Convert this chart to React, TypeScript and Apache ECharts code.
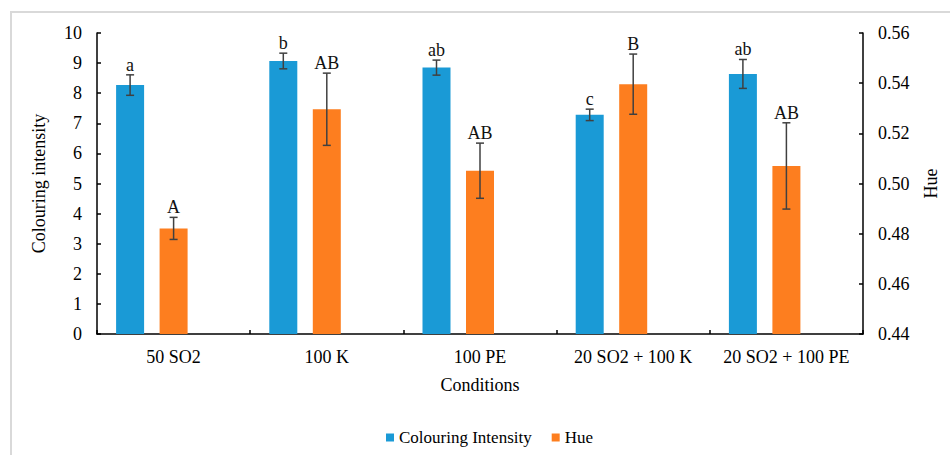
import React, { useEffect, useRef } from "react";
import * as echarts from "echarts";

const categories = ["50 SO2", "100 K", "100 PE", "20 SO2 + 100 K", "20 SO2 + 100 PE"];
const intensity = [8.27, 9.07, 8.85, 7.28, 8.64];
const intensityErr = [0.34, 0.26, 0.25, 0.19, 0.48];
const intensityLetters = ["a", "b", "ab", "c", "ab"];
const hue = [0.4821, 0.5296, 0.5051, 0.5396, 0.507];
const hueErr = [0.0044, 0.0144, 0.011, 0.012, 0.0172];
const hueLetters = ["A", "AB", "AB", "B", "AB"];
const leftTicks = { min: 0, max: 10, interval: 1 };
const rightTicks = { min: 0.44, max: 0.56, interval: 0.02 };

const BAR_W = 28;
const BAR_GAP = 15.5;
const FONT = "'Liberation Serif', 'Times New Roman', serif";
const BLUE = "#1a9ad6";
const ORANGE = "#fd7e1f";
const ERR_COLOR = "#404040";

function errorSeries(name: string, values: number[], errs: number[], letters: string[], yAxisIndex: number, offset: number) {
  return {
    type: "custom",
    name: name + "_err",
    yAxisIndex,
    z: 5,
    silent: true,
    data: values.map((v, i) => [i, v, errs[i]]),
    encode: { x: 0, y: 1 },
    renderItem: (params: any, api: any) => {
      const idx = api.value(0);
      const v = api.value(1);
      const e = api.value(2);
      const top = api.coord([idx, v + e]);
      const bot = api.coord([idx, v - e]);
      const x = top[0] + offset;
      const cap = 4;
      return {
        type: "group",
        children: [
          { type: "line", shape: { x1: x, y1: top[1], x2: x, y2: bot[1] }, style: { stroke: ERR_COLOR, lineWidth: 1.5 } },
          { type: "line", shape: { x1: x - cap, y1: top[1], x2: x + cap, y2: top[1] }, style: { stroke: ERR_COLOR, lineWidth: 1.5 } },
          { type: "line", shape: { x1: x - cap, y1: bot[1], x2: x + cap, y2: bot[1] }, style: { stroke: ERR_COLOR, lineWidth: 1.5 } },
          {
            type: "text",
            x: x,
            y: top[1] - 1,
            style: {
              text: letters[params.dataIndex],
              fill: "#111",
              font: `18px ${FONT}`,
              textAlign: "center",
              textVerticalAlign: "bottom",
            },
          },
        ],
      };
    },
  };
}

export default function App() {
  const ref = useRef<HTMLDivElement>(null);
  useEffect(() => {
    if (!ref.current) return;
    const chart = echarts.init(ref.current, undefined, { renderer: "svg" });
    const axisLabelStyle = { color: "#000", fontFamily: FONT, fontSize: 18 };
    chart.setOption({
      animation: false,
      backgroundColor: "#fff",
      textStyle: { fontFamily: FONT },
      graphic: [
        {
          type: "polyline",
          shape: { points: [[11, 460], [11, 12], [960, 12]] },
          style: { stroke: "#d9d9d9", lineWidth: 2, fill: "none" },
          silent: true,
        },
      ],
      grid: { left: 97, right: 87, top: 33, bottom: 121 },
      legend: {
        data: ["Colouring Intensity", "Hue"],
        left: 381,
        top: 424,
        icon: "rect",
        itemWidth: 8,
        itemHeight: 8,
        itemGap: 20,
        textStyle: { color: "#000", fontFamily: FONT, fontSize: 17 },
      },
      xAxis: {
        type: "category",
        data: categories,
        name: "Conditions",
        nameLocation: "middle",
        nameGap: 42,
        nameTextStyle: { color: "#000", fontFamily: FONT, fontSize: 18 },
        axisLine: { lineStyle: { color: "#000", width: 1.5 } },
        axisTick: { show: true, inside: true, length: 4, lineStyle: { color: "#000", width: 1.5 } },
        axisLabel: { ...axisLabelStyle, margin: 14, interval: 0 },
      },
      yAxis: [
        {
          type: "value",
          min: leftTicks.min,
          max: leftTicks.max,
          interval: leftTicks.interval,
          position: "left",
          name: "Colouring intensity",
          nameLocation: "middle",
          nameRotate: 90,
          nameGap: 49,
          nameTextStyle: { color: "#000", fontFamily: FONT, fontSize: 18 },
          axisLine: { show: true, lineStyle: { color: "#000", width: 1.5 } },
          axisTick: { show: true, inside: true, length: 4, lineStyle: { color: "#000", width: 1.5 } },
          axisLabel: { ...axisLabelStyle, margin: 15 },
          splitLine: { show: false },
        },
        {
          type: "value",
          min: rightTicks.min,
          max: rightTicks.max,
          interval: rightTicks.interval,
          position: "right",
          name: "Hue",
          nameLocation: "middle",
          nameRotate: 90,
          nameGap: 59,
          nameTextStyle: { color: "#000", fontFamily: FONT, fontSize: 18 },
          axisLine: { show: true, lineStyle: { color: "#000", width: 1.5 } },
          axisTick: { show: true, inside: true, length: 4, lineStyle: { color: "#000", width: 1.5 } },
          axisLabel: { ...axisLabelStyle, margin: 15, formatter: (v: number) => v.toFixed(2) },
          splitLine: { show: false },
        },
      ],
      series: [
        {
          type: "bar",
          name: "Colouring Intensity",
          yAxisIndex: 0,
          data: intensity,
          barWidth: BAR_W,
          barGap: `${(BAR_GAP / BAR_W) * 100}%`,
          itemStyle: { color: BLUE },
        },
        {
          type: "bar",
          name: "Hue",
          yAxisIndex: 1,
          data: hue,
          barWidth: BAR_W,
          barGap: `${(BAR_GAP / BAR_W) * 100}%`,
          itemStyle: { color: ORANGE },
        },
        {
          type: "bar",
          name: "spacer",
          yAxisIndex: 0,
          data: categories.map(() => null),
          barWidth: BAR_W,
          barGap: `${(BAR_GAP / BAR_W) * 100}%`,
          itemStyle: { color: "transparent" },
        },
        errorSeries("intensity", intensity, intensityErr, intensityLetters, 0, -(BAR_W + BAR_GAP)),
        errorSeries("hue", hue, hueErr, hueLetters, 1, 0),
      ],
    });
    return () => chart.dispose();
  }, []);
  return <div ref={ref} style={{ position: "fixed", left: 0, top: 0, width: 950, height: 455 }} />;
}
